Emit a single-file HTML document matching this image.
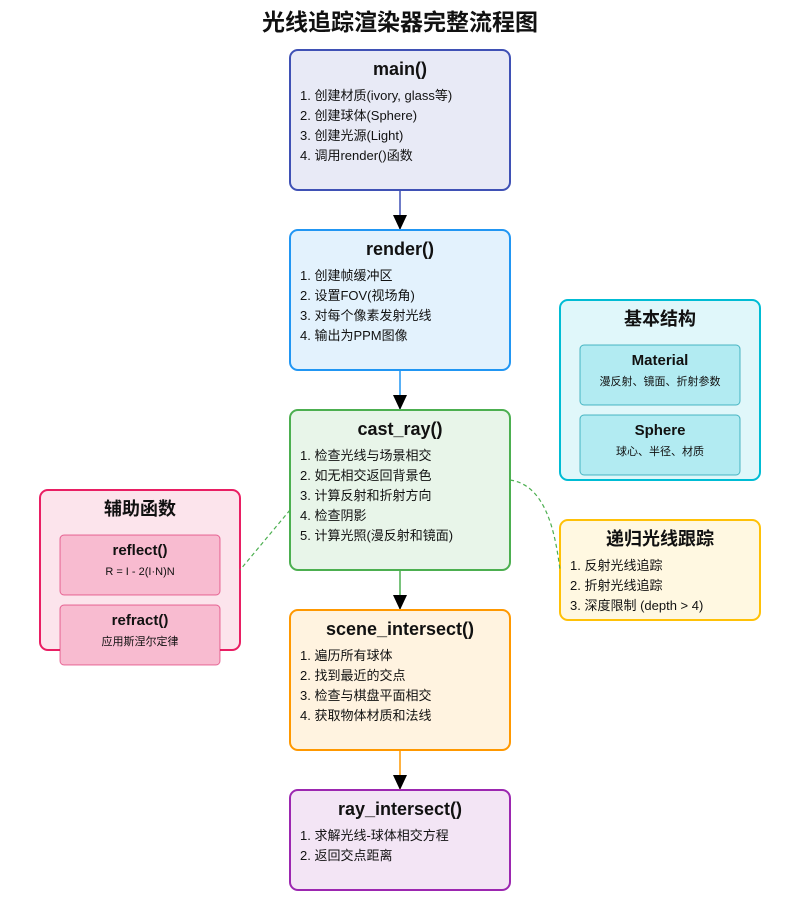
<!DOCTYPE html>
<html><head><meta charset="utf-8"><style>
body{margin:0;background:#fff}
text{font-family:"Liberation Sans","Noto Sans CJK SC",sans-serif;fill:#111}
.t{font-weight:bold;font-size:18px;text-anchor:middle}
.l{font-size:13px}
.s{font-size:11px;text-anchor:middle}
</style></head><body>
<svg width="800" height="900" viewBox="0 0 800 900" xmlns="http://www.w3.org/2000/svg">
<defs><marker id="a" markerWidth="14" markerHeight="16" refX="15" refY="7" orient="auto" markerUnits="userSpaceOnUse"><path d="M0,0 L15,7 L0,14 z" fill="#000"/></marker></defs>
<text x="400" y="30" class="t" style="font-size:23px">光线追踪渲染器完整流程图</text>

<line x1="400" y1="190" x2="400" y2="230" stroke="#3f51b5" stroke-width="1.5" marker-end="url(#a)"/>
<line x1="400" y1="370" x2="400" y2="410" stroke="#2196f3" stroke-width="1.5" marker-end="url(#a)"/>
<line x1="400" y1="570" x2="400" y2="610" stroke="#4caf50" stroke-width="1.5" marker-end="url(#a)"/>
<line x1="400" y1="750" x2="400" y2="790" stroke="#ff9800" stroke-width="1.5" marker-end="url(#a)"/>

<rect x="290" y="50" width="220" height="140" rx="8" fill="#e8eaf6" stroke="#3f51b5" stroke-width="2"/>
<text x="400" y="75" class="t">main()</text>
<text x="300" y="100" class="l">1. 创建材质(ivory, glass等)</text>
<text x="300" y="120" class="l">2. 创建球体(Sphere)</text>
<text x="300" y="140" class="l">3. 创建光源(Light)</text>
<text x="300" y="160" class="l">4. 调用render()函数</text>

<rect x="290" y="230" width="220" height="140" rx="8" fill="#e3f2fd" stroke="#2196f3" stroke-width="2"/>
<text x="400" y="255" class="t">render()</text>
<text x="300" y="280" class="l">1. 创建帧缓冲区</text>
<text x="300" y="300" class="l">2. 设置FOV(视场角)</text>
<text x="300" y="320" class="l">3. 对每个像素发射光线</text>
<text x="300" y="340" class="l">4. 输出为PPM图像</text>

<rect x="290" y="410" width="220" height="160" rx="8" fill="#e8f5e9" stroke="#4caf50" stroke-width="2"/>
<text x="400" y="435" class="t">cast_ray()</text>
<text x="300" y="460" class="l">1. 检查光线与场景相交</text>
<text x="300" y="480" class="l">2. 如无相交返回背景色</text>
<text x="300" y="500" class="l">3. 计算反射和折射方向</text>
<text x="300" y="520" class="l">4. 检查阴影</text>
<text x="300" y="540" class="l">5. 计算光照(漫反射和镜面)</text>

<rect x="290" y="610" width="220" height="140" rx="8" fill="#fff3e0" stroke="#ff9800" stroke-width="2"/>
<text x="400" y="635" class="t">scene_intersect()</text>
<text x="300" y="660" class="l">1. 遍历所有球体</text>
<text x="300" y="680" class="l">2. 找到最近的交点</text>
<text x="300" y="700" class="l">3. 检查与棋盘平面相交</text>
<text x="300" y="720" class="l">4. 获取物体材质和法线</text>

<rect x="290" y="790" width="220" height="100" rx="8" fill="#f3e5f5" stroke="#9c27b0" stroke-width="2"/>
<text x="400" y="815" class="t">ray_intersect()</text>
<text x="300" y="840" class="l">1. 求解光线-球体相交方程</text>
<text x="300" y="860" class="l">2. 返回交点距离</text>

<rect x="40" y="490" width="200" height="160" rx="8" fill="#fce4ec" stroke="#e91e63" stroke-width="2"/>
<text x="140" y="515" class="t">辅助函数</text>
<rect x="60" y="535" width="160" height="60" rx="4" fill="#f8bbd0" stroke="#d81b60" stroke-opacity="0.6"/>
<text x="140" y="555" class="t" style="font-size:15px">reflect()</text>
<text x="140" y="575" class="s">R = I - 2(I·N)N</text>
<rect x="60" y="605" width="160" height="60" rx="4" fill="#f8bbd0" stroke="#d81b60" stroke-opacity="0.6"/>
<text x="140" y="625" class="t" style="font-size:15px">refract()</text>
<text x="140" y="645" class="s">应用斯涅尔定律</text>
<line x1="290" y1="510" x2="240" y2="570" stroke="#4caf50" stroke-width="1.2" stroke-dasharray="4,3"/>

<rect x="560" y="300" width="200" height="180" rx="8" fill="#e0f7fa" stroke="#00bcd4" stroke-width="2"/>
<text x="660" y="325" class="t">基本结构</text>
<rect x="580" y="345" width="160" height="60" rx="4" fill="#b2ebf2" stroke="#26a5b5" stroke-opacity="0.8"/>
<text x="660" y="365" class="t" style="font-size:15px">Material</text>
<text x="660" y="385" class="s">漫反射、镜面、折射参数</text>
<rect x="580" y="415" width="160" height="60" rx="4" fill="#b2ebf2" stroke="#26a5b5" stroke-opacity="0.8"/>
<text x="660" y="435" class="t" style="font-size:15px">Sphere</text>
<text x="660" y="455" class="s">球心、半径、材质</text>

<rect x="560" y="520" width="200" height="100" rx="8" fill="#fff8e1" stroke="#ffc107" stroke-width="2"/>
<text x="660" y="545" class="t">递归光线跟踪</text>
<text x="570" y="570" class="l">1. 反射光线追踪</text>
<text x="570" y="590" class="l">2. 折射光线追踪</text>
<text x="570" y="610" class="l">3. 深度限制 (depth &gt; 4)</text>
<path d="M510,480 C545,485 555,530 560,570" fill="none" stroke="#4caf50" stroke-width="1.2" stroke-dasharray="4,3"/>
</svg>
</body></html>
